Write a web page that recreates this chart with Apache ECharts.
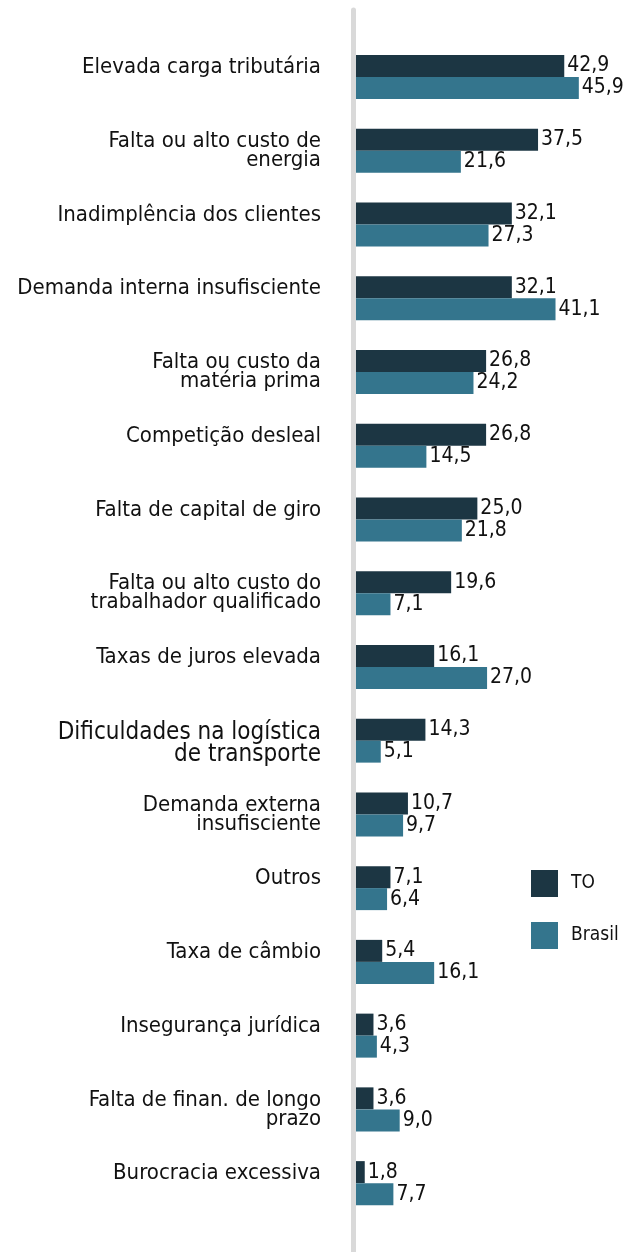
<!DOCTYPE html>
<html>
<head>
<meta charset="utf-8">
<title>Problemas enfrentados</title>
<script src="https://cdn.jsdelivr.net/npm/echarts@6/dist/echarts.min.js"></script>
<style>
  html, body { margin: 0; padding: 0; background: #fff; }
  #chart { width: 636px; height: 1252px; }
</style>
</head>
<body>
<div id="chart"></div>
<script>
// categorias (de cima para baixo)
const categories = [
  'Elevada carga tributária',
  'Falta ou alto custo de\nenergia',
  'Inadimplência dos clientes',
  'Demanda interna insufisciente',
  'Falta ou custo da\nmatéria prima',
  'Competição desleal',
  'Falta de capital de giro',
  'Falta ou alto custo do\ntrabalhador qualificado',
  'Taxas de juros elevada',
  'Dificuldades na logística\nde transporte',
  'Demanda externa\ninsufisciente',
  'Outros',
  'Taxa de câmbio',
  'Insegurança jurídica',
  'Falta de finan. de longo\nprazo',
  'Burocracia excessiva'
]

const toValues = [42.9, 37.5, 32.1, 32.1, 26.8, 26.8, 25.0, 19.6, 16.1, 14.3, 10.7, 7.1, 5.4, 3.6, 3.6, 1.8]
const brasilValues = [45.9, 21.6, 27.3, 41.1, 24.2, 14.5, 21.8, 7.1, 27.0, 5.1, 9.7, 6.4, 16.1, 4.3, 9.0, 7.7]

const seriesNames = ['TO', 'Brasil']

const FONT = "'Liberation Sans Narrow', 'DejaVu Sans Condensed', sans-serif"

const fmt = v => v.toFixed(1).replace('.', ',')

const valueLabel = {
  show: true,
  position: 'right',
  distance: 3,
  fontFamily: FONT,
  fontSize: 21,
  color: '#111',
  formatter: p => fmt(p.value)
}

const chart = echarts.init(document.getElementById('chart'))

chart.setOption({
  animation: false,
  color: ['#1c3643', '#34758d'],
  legend: {
    data: seriesNames,
    orient: 'vertical',
    left: 526,
    top: 865,
    itemWidth: 27,
    itemHeight: 27,
    itemGap: 25,
    icon: 'rect',
    textStyle: {
      fontFamily: FONT,
      fontSize: 19,
      color: '#111',
      padding: [0, 0, 0, 8]
    }
  },
  grid: [
    { left: 356, right: 13, top: 40, bottom: 32, containLabel: false, outerBoundsMode: 'none' },
    // só para a linha vertical cinza
    { left: 353, width: 1, top: 10, bottom: 0, containLabel: false, outerBoundsMode: 'none' }
  ],
  xAxis: [
    { type: 'value', min: 0, max: 55, show: false },
    { type: 'value', gridIndex: 1, show: false }
  ],
  yAxis: [
    {
      type: 'category',
      data: categories,
      inverse: true,
      axisLine: { show: false },
      axisTick: { show: false },
      axisLabel: {
        margin: 35,
        fontFamily: FONT,
        fontSize: 22,
        lineHeight: 19,
        color: '#111',
        align: 'right',
        verticalAlign: 'top',
        padding: [-19, 0, 0, 0],
        // o rótulo de logística aparece um pouco maior no original
        formatter: v => v.startsWith('Dificuldades')
          ? v.split('\n').map(s => '{big|' + s + '}').join('\n')
          : v,
        rich: {
          big: {
            fontFamily: FONT,
            fontSize: 24,
            lineHeight: 22,
            color: '#111'
          }
        }
      }
    },
    {
      type: 'value',
      gridIndex: 1,
      min: 0,
      max: 1,
      axisLine: { show: true, lineStyle: { color: '#d9d9d9', width: 5, cap: 'round' } },
      axisTick: { show: false },
      axisLabel: { show: false },
      splitLine: { show: false }
    }
  ],
  series: [
    {
      name: seriesNames[0],
      type: 'bar',
      data: toValues,
      barWidth: 22,
      barGap: '0%',
      label: valueLabel
    },
    {
      name: seriesNames[1],
      type: 'bar',
      data: brasilValues,
      barWidth: 22,
      barGap: '0%',
      label: valueLabel
    }
  ]
})
</script>
</body>
</html>
